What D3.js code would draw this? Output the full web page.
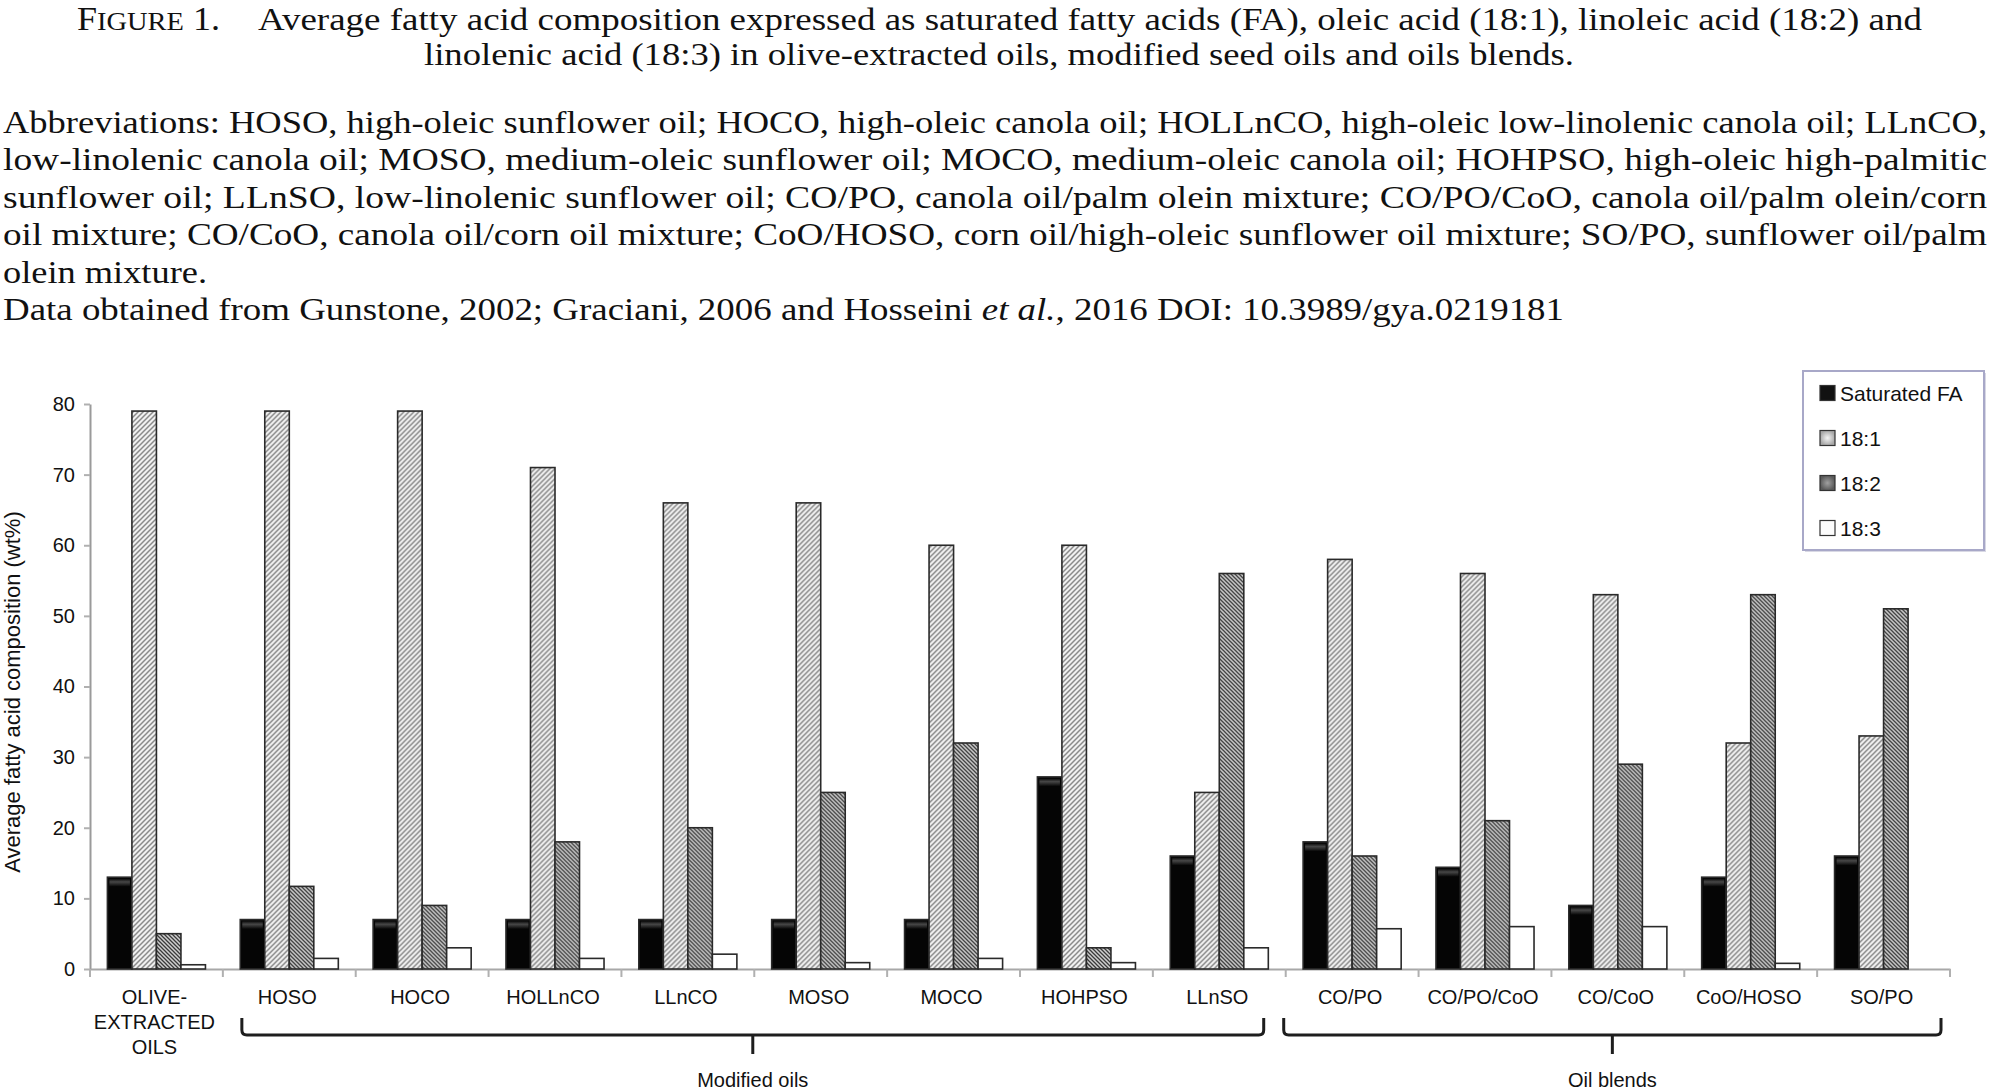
<!DOCTYPE html>
<html><head><meta charset="utf-8">
<script src="https://cdn.jsdelivr.net/npm/d3@7"></script>
<style>body{margin:0;background:#fff}svg{display:block}</style>
</head><body>
<svg id="c" width="1996" height="1091"></svg>
<script>
// ---------------- data ----------------
const categories = ["OLIVE-EXTRACTED OILS","HOSO","HOCO","HOLLnCO","LLnCO","MOSO","MOCO","HOHPSO","LLnSO","CO/PO","CO/PO/CoO","CO/CoO","CoO/HOSO","SO/PO"];
const categoryLabels = [["OLIVE-","EXTRACTED","OILS"],["HOSO"],["HOCO"],["HOLLnCO"],["LLnCO"],["MOSO"],["MOCO"],["HOHPSO"],["LLnSO"],["CO/PO"],["CO/PO/CoO"],["CO/CoO"],["CoO/HOSO"],["SO/PO"]];
const series = ["Saturated FA","18:1","18:2","18:3"];
const saturatedFA = [13,7,7,7,7,7,7,27.2,16,18,14.4,9,13,16];
const oleic181    = [79,79,79,71,66,66,60,60,25,58,56,53,32,33];
const linoleic182 = [5,11.7,9,18,20,25,32,3,56,16,21,29,53,51];
const linolenic183= [0.6,1.5,3,1.5,2.1,0.9,1.5,0.9,3,5.7,6,6,0.8,0];
const seriesValues = [saturatedFA, oleic181, linoleic182, linolenic183];
const yTicks = [0,10,20,30,40,50,60,70,80];
const groupBrackets = [
  {label:"Modified oils", from:"HOSO", to:"LLnSO"},
  {label:"Oil blends", from:"CO/PO", to:"SO/PO"}
];
const titleLines = [
  "Average fatty acid composition expressed as saturated fatty acids (FA), oleic acid (18:1), linoleic acid (18:2) and",
  "linolenic acid (18:3) in olive-extracted oils, modified seed oils and oils blends."
];
const abbrevLines = [
  "Abbreviations: HOSO, high-oleic sunflower oil; HOCO, high-oleic canola oil; HOLLnCO, high-oleic low-linolenic canola oil; LLnCO,",
  "low-linolenic canola oil; MOSO, medium-oleic sunflower oil; MOCO, medium-oleic canola oil; HOHPSO, high-oleic high-palmitic",
  "sunflower oil; LLnSO, low-linolenic sunflower oil; CO/PO, canola oil/palm olein mixture; CO/PO/CoO, canola oil/palm olein/corn",
  "oil mixture; CO/CoO, canola oil/corn oil mixture; CoO/HOSO, corn oil/high-oleic sunflower oil mixture; SO/PO, sunflower oil/palm",
  "olein mixture."
];

// ---------------- drawing ----------------
const svg = d3.select("#c");
const defs = svg.append("defs");
const serif = "'Liberation Serif','Times New Roman',serif";
const sans = "'Liberation Sans',Arial,sans-serif";

// patterns
const p1 = defs.append("pattern").attr("id","p181").attr("patternUnits","userSpaceOnUse").attr("width",5).attr("height",5);
p1.append("rect").attr("width",5).attr("height",5).attr("fill","#f0f0f0");
p1.append("path").attr("d","M-1,1 L1,-1 M0,5 L5,0 M4,6 L6,4").attr("stroke","#8a8a8a").attr("stroke-width",1.5);
const p2 = defs.append("pattern").attr("id","p182").attr("patternUnits","userSpaceOnUse").attr("width",4).attr("height",4);
p2.append("rect").attr("width",4).attr("height",4).attr("fill","#cfcfcf");
p2.append("path").attr("d","M-1,3 L1,5 M0,0 L4,4 M3,-1 L5,1").attr("stroke","#3a3a3a").attr("stroke-width",1.3);
const gt = defs.append("linearGradient").attr("id","gTop").attr("x1",0).attr("y1",0).attr("x2",0).attr("y2",1);
gt.append("stop").attr("offset",0).attr("stop-color","#0a0a0a");
gt.append("stop").attr("offset",0.4).attr("stop-color","#474747");
gt.append("stop").attr("offset",1).attr("stop-color","#050505");
const gl = defs.append("radialGradient").attr("id","gLight");
gl.append("stop").attr("offset",0).attr("stop-color","#f4f4f4");
gl.append("stop").attr("offset",1).attr("stop-color","#a8a8a8");
const gm = defs.append("radialGradient").attr("id","gMid");
gm.append("stop").attr("offset",0).attr("stop-color","#a0a0a0");
gm.append("stop").attr("offset",1).attr("stop-color","#5a5a5a");

// ---- header text ----
const head = svg.append("g").attr("font-family", serif).attr("fill","#111");
const fig = head.append("text").attr("x",77).attr("y",30).attr("font-size",33)
  .attr("textLength",143).attr("lengthAdjust","spacingAndGlyphs");
fig.append("tspan").text("F");
fig.append("tspan").attr("font-size",26).text("IGURE");
fig.append("tspan").text(" 1.");
const titleSpecs = [{x:258,y:30,w:1664},{x:424,y:65,w:1150}];
titleLines.forEach((t,i)=>{
  head.append("text").attr("x",titleSpecs[i].x).attr("y",titleSpecs[i].y).attr("font-size",32)
    .attr("textLength",titleSpecs[i].w).attr("lengthAdjust","spacingAndGlyphs").text(t);
});
const abbrevBase = [133,170.4,207.8,245.2,282.6];
abbrevLines.forEach((t,i)=>{
  const el = head.append("text").attr("x",3).attr("y",abbrevBase[i]).attr("font-size",32).text(t);
  if(i<4) el.attr("textLength",1984).attr("lengthAdjust","spacingAndGlyphs");
  else el.attr("textLength",204).attr("lengthAdjust","spacingAndGlyphs");
});
const src = head.append("text").attr("x",3).attr("y",320).attr("font-size",32)
  .attr("textLength",1561).attr("lengthAdjust","spacingAndGlyphs");
src.append("tspan").text("Data obtained from Gunstone, 2002; Graciani, 2006 and Hosseini ");
src.append("tspan").attr("font-style","italic").text("et al.");
src.append("tspan").text(", 2016 DOI: 10.3989/gya.0219181");

// ---- scales ----
const x0 = d3.scaleBand().domain(categories).range([90,1950]).paddingInner(0).paddingOuter(0);
const x1 = d3.scaleBand().domain(series).range([0,x0.bandwidth()]).paddingInner(0).paddingOuter(0.71);
const y = d3.scaleLinear().domain([0,80]).range([969,404]);

const fills = {"Saturated FA":"#050505","18:1":"url(#p181)","18:2":"url(#p182)","18:3":"#ffffff"};

// ---- axes ----
const yAxis = svg.append("g").attr("transform","translate(90,0)")
  .call(d3.axisLeft(y).tickValues(yTicks).tickSize(6).tickSizeOuter(0).tickPadding(9));
yAxis.select(".domain").attr("stroke","#9a9a9a").attr("stroke-width",2);
yAxis.selectAll(".tick line").attr("stroke","#b0b0b0").attr("stroke-width",2);
yAxis.selectAll(".tick text").attr("font-family",sans).attr("font-size",20).attr("fill","#111");

const xAxis = svg.append("g").attr("transform","translate(0,969)")
  .call(d3.axisBottom(x0).tickSize(0).tickFormat(""));
xAxis.select(".domain").attr("stroke","#a8a8a8").attr("stroke-width",2);
const bounds = d3.range(categories.length+1).map(i => x0.range()[0] + i*x0.step());
xAxis.selectAll(".bnd").data(bounds).join("line").attr("class","bnd")
  .attr("x1",d=>d).attr("x2",d=>d).attr("y1",0).attr("y2",8)
  .attr("stroke","#b0b0b0").attr("stroke-width",2);

// category labels
const lab = svg.append("g").attr("font-family",sans).attr("font-size",20).attr("fill","#111").attr("text-anchor","middle");
categories.forEach((c,i)=>{
  const t = lab.append("text").attr("x", x0(c)+x0.bandwidth()/2 - 2).attr("y",1004);
  categoryLabels[i].forEach((line,k)=>{
    t.append("tspan").attr("x", x0(c)+x0.bandwidth()/2 - 2).attr("dy", k===0?0:25).text(line);
  });
});

// y title
svg.append("text").attr("transform","translate(20,692) rotate(-90)")
  .attr("text-anchor","middle").attr("font-family",sans).attr("font-size",22).attr("fill","#111")
  .text("Average fatty acid composition (wt%)");

// ---- bars ----
const rows = categories.map((c,i)=>({cat:c, vals: series.map((s,j)=>({s, v: seriesValues[j][i]}))}));
const grp = svg.append("g").selectAll("g").data(rows).join("g")
  .attr("transform", d=>`translate(${x0(d.cat)},0)`);
grp.selectAll("rect.bar").data(d=>d.vals.filter(v=>v.v>0)).join("rect").attr("class","bar")
  .attr("x", d=>x1(d.s)).attr("width", x1.bandwidth())
  .attr("y", d=>y(d.v)).attr("height", d=>y(0)-y(d.v))
  .attr("fill", d=>fills[d.s]).attr("stroke","#2a2a2a").attr("stroke-width",1.6);
grp.selectAll("rect.hl").data(d=>d.vals.filter(v=>v.s==="Saturated FA" && v.v>0)).join("rect").attr("class","hl")
  .attr("x", d=>x1(d.s)+2).attr("width", x1.bandwidth()-4)
  .attr("y", d=>y(d.v)+1.5).attr("height", d=>Math.min(8, y(0)-y(d.v)-3))
  .attr("fill","url(#gTop)");

// ---- brackets ----
const br = svg.append("g").attr("fill","none").attr("stroke","#1e1e1e").attr("stroke-width",3);
const brY = 1035, hookTop = 1018, tickBottom = 1054;
groupBrackets.forEach((b,i)=>{
  const l = x0(b.from) + (i===0 ? 19 : -2);
  const r = x0(b.to) + x0.bandwidth() - (i===0 ? 22 : 9);
  const cx = (l+r)/2;
  br.append("path").attr("d",
    `M${l},${hookTop} L${l},${brY-5} Q${l},${brY} ${l+5},${brY} L${r-5},${brY} Q${r},${brY} ${r},${brY-5} L${r},${hookTop}`);
  br.append("path").attr("d",`M${cx},${brY} L${cx},${tickBottom}`);
  svg.append("text").attr("x",cx).attr("y",1087).attr("text-anchor","middle")
    .attr("font-family",sans).attr("font-size",20).attr("fill","#111").text(b.label);
});

// ---- legend ----
const lg = svg.append("g");
lg.append("rect").attr("x",1805).attr("y",373).attr("width",181).attr("height",179).attr("fill","#d8d8e4");
lg.append("rect").attr("x",1803).attr("y",371).attr("width",181).attr("height",179)
  .attr("fill","#fff").attr("stroke","#a8a8c8").attr("stroke-width",2);
const legFill = {"Saturated FA":"#111","18:1":"url(#gLight)","18:2":"url(#gMid)","18:3":"#fcfcfc"};
series.forEach((s,i)=>{
  const cy = 393 + i*45;
  lg.append("rect").attr("x",1820).attr("y",cy-7.5).attr("width",15).attr("height",15)
    .attr("fill",legFill[s]).attr("stroke","#333").attr("stroke-width",1.2);
  lg.append("text").attr("x",1840).attr("y",cy+7.5).attr("font-family",sans).attr("font-size",21)
    .attr("fill","#111").text(s);
});
</script></body></html>
